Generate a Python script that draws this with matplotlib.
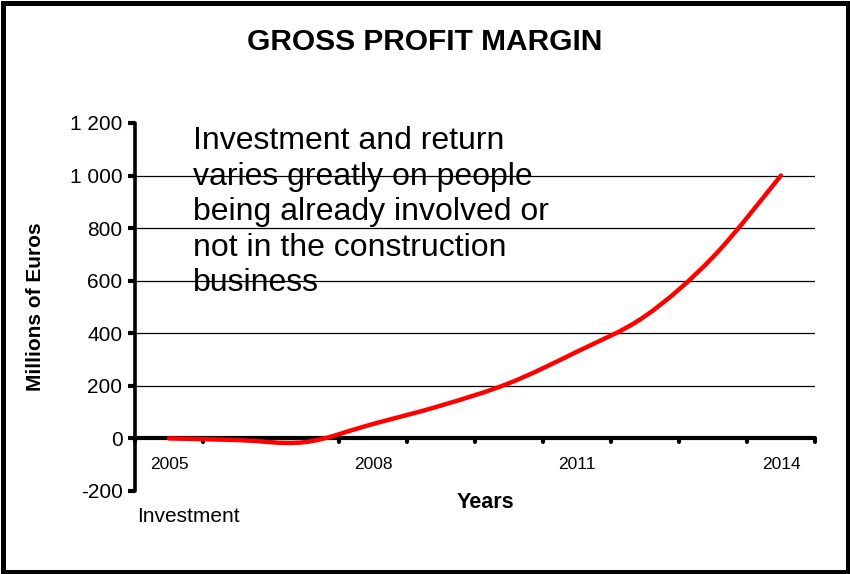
import numpy as np
import matplotlib.pyplot as plt
from matplotlib.path import Path
from matplotlib.patches import PathPatch, Rectangle

plt.rcParams['font.family'] = ['Liberation Sans', 'DejaVu Sans']

# data
years = [2005, 2006, 2007, 2008, 2009, 2010, 2011, 2012, 2013, 2014]
margin = [0, -6, -14, 55, 125, 210, 330, 465, 690, 1000]
shown_years = [2005, 2008, 2011, 2014]
y_ticks = [-200, 0, 200, 400, 600, 800, 1000, 1200]
y_labels = ['-200', '0', '200', '400', '600', '800', '1 000', '1 200']
note = ("Investment and return\nvaries greatly on people\n"
        "being already involved or\nnot in the construction\nbusiness")


def smooth_path(xs, ys, t=1 / 6):
    # catmull-rom style smoothing, like the office "smoothed line" option
    xs = np.asarray(xs, float)
    ys = np.asarray(ys, float)
    pts = np.column_stack([xs, ys])
    verts = [pts[0]]
    codes = [Path.MOVETO]
    n = len(pts)
    for i in range(n - 1):
        p0 = pts[max(i - 1, 0)]
        p1 = pts[i]
        p2 = pts[i + 1]
        p3 = pts[min(i + 2, n - 1)]
        c1 = p1 + (p2 - p0) * t
        c2 = p2 - (p3 - p1) * t
        verts += [c1, c2, p2]
        codes += [Path.CURVE4] * 3
    return Path(verts, codes)


fig = plt.figure(figsize=(8.5, 5.74), dpi=100)
ax = fig.add_axes([135 / 850, 1 - 491 / 574, 680 / 850, 368 / 574])

x = np.arange(len(years))
ax.add_patch(PathPatch(smooth_path(x, margin), fill=False, edgecolor='#ff0000',
                       lw=3.2, capstyle='round', zorder=4))

ax.set_xlim(-0.5, len(years) - 0.5)
ax.set_ylim(-200, 1200)

for v in [200, 400, 600, 800, 1000]:
    ax.axhline(v, color='black', lw=0.9, zorder=1)

for s in ['top', 'right', 'bottom']:
    ax.spines[s].set_visible(False)
ax.spines['left'].set_linewidth(2.6)
ax.spines['left'].set_capstyle('round')

# x axis drawn at zero with tick marks between categories
ax.axhline(0, color='black', lw=3.0, zorder=3, solid_capstyle='round')
for b in np.arange(len(years) + 1) - 0.5:
    ax.plot([b, b], [0, -12], color='black', lw=3.0, solid_capstyle='round',
            zorder=3, clip_on=False)

ax.set_xticks([])
for yr in shown_years:
    ax.text(years.index(yr), -100, str(yr), ha='center', va='center', fontsize=12.5)

ax.set_yticks(y_ticks)
ax.set_yticklabels(y_labels, fontsize=15)
ax.tick_params(axis='y', length=5, width=3, direction='out', pad=4)

ax.set_ylabel('Millions of Euros', fontsize=15, fontweight='bold', labelpad=18)
fig.text(485 / 850, 1 - 503 / 574, 'Years', ha='center', va='center',
         fontsize=15.5, fontweight='bold')
fig.text(137 / 850, 1 - 517 / 574, 'Investment', ha='left', va='center', fontsize=15)

fig.text(425 / 850, 1 - 42 / 574, 'GROSS PROFIT MARGIN', ha='center', va='center',
         fontsize=21.5, fontweight='bold')

ax.text(0.35, 1187, note, ha='left', va='top', fontsize=23, linespacing=1.24, zorder=5)

fig.patches.append(Rectangle((2.5 / 850, 2.5 / 574), 845 / 850, 569 / 574,
                             transform=fig.transFigure, fill=False,
                             edgecolor='black', lw=3.6))

fig.savefig('out.png', dpi=100, facecolor='white')
